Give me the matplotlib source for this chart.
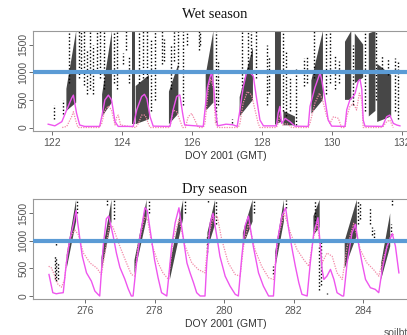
import matplotlib
matplotlib.use('Agg')
import matplotlib.pyplot as plt

plt.rcParams['hatch.linewidth'] = 0.8
plt.rcParams['hatch.color'] = 'black'
plt.rcParams['font.family'] = ['Liberation Sans', 'DejaVu Sans']

# ---------------- wet season, DOY 122-132 ----------------
wet_solid_x = [121.9, 122.09, 122.29, 122.43, 122.57, 122.62, 122.71, 122.8, 122.94, 123.37,
               123.43, 123.52, 123.62, 123.71, 123.81, 123.9, 124.33, 124.43, 124.57, 124.65,
               124.72, 124.81, 124.9, 125.38, 125.47, 125.57, 125.66, 125.74, 125.8, 126.33,
               126.38, 126.45, 126.52, 126.57, 126.63, 126.68, 126.74, 126.98, 127.17, 127.3,
               127.38, 127.47, 127.57, 127.67, 127.76, 127.86, 127.95, 128.05, 128.42, 128.47,
               128.52, 128.57, 128.67, 128.81, 128.95, 129.33, 129.38, 129.52, 129.62, 129.67,
               129.72, 129.81, 129.9, 130.0, 130.38, 130.43, 130.52, 130.62, 130.67, 130.76,
               130.81, 130.86, 130.9, 130.95, 131.45, 131.57, 131.66, 131.76, 131.86, 131.95]
wet_solid_y = [60, 30, 105, 320, 530, 585, 260, 45, 20, 20,
               195, 500, 585, 500, 105, 20, 20, 320, 560, 600,
               520, 195, 25, 20, 320, 560, 590, 260, 45, 20,
               320, 720, 900, 1000, 720, 320, 30, 60, 50, 20,
               320, 720, 1000, 990, 930, 500, 135, 30, 30, 260,
               380, 75, 165, 105, 25, 20, 380, 720, 900, 990,
               840, 500, 135, 25, 20, 320, 500, 560, 620, 840,
               870, 690, 135, 25, 20, 195, 225, 75, 45, 30]

wet_dot_x = [122.3, 122.43, 122.57, 122.62, 122.71, 122.75, 123.35, 123.43, 123.52, 123.62,
             123.71, 123.81, 123.86, 123.9, 123.97, 124.4, 124.48, 124.57, 124.67, 124.76,
             124.81, 125.35, 125.4, 125.47, 125.57, 125.66, 125.74, 125.82, 125.9, 126.0,
             126.09, 126.19, 126.33, 126.38, 126.48, 126.54, 126.62, 126.68, 126.74, 127.33,
             127.38, 127.47, 127.59, 127.71, 127.81, 127.9, 127.95, 128.42, 128.47, 128.52,
             128.6, 128.71, 128.86, 129.33, 129.38, 129.52, 129.65, 129.74, 129.86, 129.95,
             130.05, 130.19, 130.28, 130.38, 130.43, 130.52, 130.62, 130.71, 130.79, 130.86,
             130.9, 131.4, 131.47, 131.57, 131.66, 131.76]
wet_dot_y = [0, 20, 195, 285, 75, 0, 0, 75, 316, 390,
             316, 45, 195, 225, 45, 0, 75, 225, 225, 75,
             0, 0, 75, 316, 285, 135, 0, 0, 195, 255,
             135, 0, 0, 75, 720, 880, 720, 75, 0, 0,
             75, 440, 650, 590, 316, 75, 0, 0, 75, 225,
             45, 75, 0, 0, 75, 440, 620, 496, 195, 75,
             195, 165, 0, 0, 195, 380, 440, 316, 620, 500,
             0, 0, 20, 105, 135, 0]

# dense clouds of black points: x range and low/high edges at both ends
wet_band_x0 = [122.42, 123.44, 124.30, 124.40, 125.35, 126.40, 127.37, 128.38, 128.62, 129.42, 130.38, 130.66, 131.06, 131.30]
wet_band_x1 = [122.70, 123.72, 124.37, 124.78, 125.62, 126.62, 127.75, 128.55, 128.95, 129.75, 130.56, 130.90, 131.25, 131.70]
wet_band_lo0 = [300, 200, 60, 60, 60, 300, 200, 50, 40, 250, 500, 800, 200, 100]
wet_band_lo1 = [450, 450, 60, 150, 250, 450, 500, 100, 40, 500, 500, 900, 300, 200]
wet_band_hi0 = [700, 600, 1745, 750, 650, 950, 550, 1745, 300, 850, 1550, 1700, 1700, 1150]
wet_band_hi1 = [1745, 1745, 1745, 950, 1150, 1745, 1450, 1745, 200, 1745, 1745, 1500, 1745, 950]

# isolated streaks of black points
wet_streak_x = [122.08, 122.32, 122.77, 122.84, 122.93, 123.02, 123.1, 123.18, 123.3, 123.37,
                123.78, 123.86, 124.05, 124.12, 124.2, 124.72, 124.85, 124.95, 125.15, 125.22,
                125.5, 125.6, 125.75, 125.88, 126.2, 126.25, 126.7, 126.76, 127.15, 127.7,
                127.85, 128.15, 128.22, 128.6, 128.7, 128.8, 128.98, 129.22, 129.3, 129.85,
                129.95, 130.1, 130.2, 130.6, 130.95, 131.28, 131.8, 131.9, 122.5, 123.5,
                124.5, 124.6, 125.4, 127.45, 127.6, 129.5, 131.45, 131.6]
wet_streak_lo = [160, 250, 900, 1000, 760, 600, 700, 600, 1000, 900,
                 800, 700, 1150, 1400, 800, 900, 300, 500, 1150, 1200,
                 1200, 1100, 400, 1500, 1400, 1500, 100, 400, 80, 1300,
                 900, 400, 600, 300, 200, 300, 50, 750, 800, 600,
                 800, 700, 800, 400, 300, 500, 300, 150, 800, 700,
                 800, 900, 700, 700, 1000, 900, 1000, 950]
wet_streak_hi = [400, 500, 1745, 1745, 1745, 1400, 1745, 1500, 1745, 1745,
                 1745, 1745, 1350, 1745, 1300, 1745, 1600, 1745, 1745, 1600,
                 1745, 1745, 1745, 1745, 1745, 1700, 1745, 1200, 150, 1745,
                 1745, 1500, 1300, 1745, 1400, 900, 1050, 1250, 1300, 1745,
                 1745, 1300, 1200, 1500, 1745, 1745, 1250, 1200, 1745, 1745,
                 1745, 1745, 1500, 1745, 1745, 1745, 1300, 1250]

# ---------------- dry season, DOY 275-285 ----------------
dry_solid_x = [274.96, 275.03, 275.07, 275.17, 275.25, 275.37, 275.46, 275.56, 275.65, 275.74,
               275.85, 275.92, 276.04, 276.18, 276.28, 276.37, 276.42, 276.52, 276.61, 276.68,
               276.81, 276.9, 277.0, 277.14, 277.24, 277.33, 277.38, 277.48, 277.58, 277.72,
               277.79, 277.91, 278.0, 278.1, 278.2, 278.35, 278.4, 278.49, 278.59, 278.7,
               278.83, 278.93, 279.02, 279.12, 279.21, 279.31, 279.45, 279.5, 279.6, 279.68,
               279.79, 279.88, 280.03, 280.17, 280.32, 280.41, 280.51, 280.6, 280.7, 280.84,
               280.99, 281.13, 281.28, 281.42, 281.52, 281.66, 281.77, 281.86, 281.96, 282.05,
               282.15, 282.24, 282.39, 282.48, 282.58, 282.7, 282.77, 282.82, 282.87, 282.96,
               283.06, 283.16, 283.25, 283.4, 283.44, 283.54, 283.68, 283.78, 283.88, 283.97,
               284.07, 284.21, 284.35, 284.45, 284.55, 284.69, 284.84, 284.93, 285.03]
dry_solid_y = [390, 180, 60, 40, 50, 60, 600, 1030, 1265, 1550,
               1030, 720, 420, 270, 90, 30, 0, 900, 1400, 1450,
               1080, 780, 520, 310, 130, 0, 0, 600, 1080, 1600,
               1550, 1030, 650, 330, 60, 0, 310, 900, 1325, 1600,
               1030, 600, 420, 240, 60, 0, 0, 600, 1325, 1500,
               1080, 720, 360, 180, 30, 0, 720, 1265, 1450, 900,
               420, 180, 0, 0, 950, 1445, 1600, 1205, 843, 540,
               240, 30, 0, 600, 1145, 1420, 904, 482, 300, 361,
               482, 300, 60, 0, 0, 600, 1145, 1300, 904, 600,
               300, 150, 120, 60, 482, 904, 1130, 904, 420]

dry_dot_x = [274.95, 275.03, 275.13, 275.22, 275.32, 275.41, 275.5, 275.6, 275.7, 275.8,
             275.95, 276.14, 276.33, 276.47, 276.57, 276.7, 276.8, 277.0, 277.19, 277.33,
             277.43, 277.52, 277.72, 277.8, 277.91, 278.1, 278.24, 278.4, 278.54, 278.7,
             278.88, 279.07, 279.26, 279.45, 279.55, 279.69, 279.8, 279.93, 280.12, 280.32,
             280.46, 280.56, 280.7, 280.89, 281.08, 281.28, 281.42, 281.56, 281.73, 281.91,
             282.1, 282.29, 282.44, 282.58, 282.68, 282.82, 282.96, 283.11, 283.25, 283.4,
             283.54, 283.73, 283.92, 284.11, 284.3, 284.45, 284.6, 284.79, 284.88]
dry_dot_y = [540, 510, 360, 210, 160, 300, 840, 1080, 1200, 1120,
             780, 600, 510, 390, 780, 1300, 1250, 900, 600, 390,
             360, 900, 1440, 1380, 960, 600, 420, 300, 1030, 1390,
             900, 600, 480, 420, 1080, 1440, 1450, 1030, 600, 390,
             360, 900, 1320, 840, 540, 330, 300, 1080, 1500, 1145,
             840, 660, 540, 1080, 1320, 600, 780, 720, 420, 300,
             900, 1320, 840, 600, 480, 360, 720, 1080, 1120]

dry_band_x0 = [275.47, 276.47, 277.42, 278.44, 279.52, 280.54, 281.47, 282.57, 283.47, 284.52]
dry_band_x1 = [275.74, 276.76, 277.77, 278.82, 279.74, 280.82, 281.72, 282.75, 283.82, 284.78]
dry_band_lo0 = [500, 450, 400, 300, 850, 900, 500, 1100, 500, 300]
dry_band_lo1 = [1350, 1350, 1400, 1400, 1300, 1350, 1350, 1250, 1100, 900]
dry_band_hi0 = [750, 700, 650, 600, 1150, 1150, 800, 1450, 1000, 600]
dry_band_hi1 = [1745, 1745, 1745, 1745, 1745, 1745, 1745, 1745, 1745, 1500]

dry_streak_x = [275.12, 275.17, 275.22, 275.15, 275.78, 276.62, 276.82, 277.85, 278.88, 279.55,
                279.78, 279.52, 280.85, 281.42, 281.78, 282.62, 282.72, 282.78, 283.85, 283.9,
                284.2, 284.25, 284.3, 284.8, 284.82, 282.95]
dry_streak_lo = [300, 280, 300, 930, 1500, 1650, 1400, 1500, 1500, 1700,
                 1300, 800, 1500, 400, 1600, 1300, 100, 200, 1300, 1400,
                 1300, 1100, 1000, 1100, 1650, 40]
dry_streak_hi = [750, 700, 600, 970, 1745, 1745, 1745, 1745, 1745, 1745,
                 1745, 1100, 1745, 550, 1745, 1745, 900, 1000, 1745, 1700,
                 1600, 1250, 1200, 1300, 1745, 60]

threshold = 1000

fig = plt.figure(figsize=(4.07, 3.35), dpi=100)
W, H = 407.0, 335.0


def panel(rect, xlim, ylim, xticks, title, title_y,
          band, streak, solid, dotted):
    ax = fig.add_axes(rect)
    x0, x1, lo0, lo1, hi0, hi1 = band
    for i in range(len(x0)):
        # dense point clouds: hatched polygon
        ax.fill([x0[i], x1[i], x1[i], x0[i]], [lo0[i], lo1[i], hi1[i], hi0[i]],
                facecolor=(0, 0, 0, 0.72), edgecolor='none', hatch='||||',
                linewidth=0, zorder=2)
    sx, slo, shi = streak
    ax.vlines(sx, slo, shi, colors='black', linewidth=1.0,
              linestyles=(0, (1, 1.5)), zorder=2)
    ax.plot(dotted[0], dotted[1], color='#f28aa8', linestyle=(0, (1, 1)),
            linewidth=0.9, zorder=3)
    ax.plot(solid[0], solid[1], color='#ee55ee', linewidth=1.0, zorder=4)
    ax.axhline(threshold, color='#5b9bd5', linewidth=3.0, zorder=5)
    ax.set_xlim(*xlim)
    ax.set_ylim(*ylim)
    ax.set_xticks(xticks)
    ax.set_yticks([0, 500, 1000, 1500])
    ax.tick_params(axis='both', labelsize=7.5, colors='#555555', length=3, width=0.6, pad=2)
    plt.setp(ax.get_yticklabels(), rotation=90, ha='center', va='center',
             rotation_mode='default')
    ax.tick_params(axis='y', pad=4)
    ax.set_xlabel('DOY 2001 (GMT)', fontsize=7.5, color='#333333', labelpad=2)
    for s in ax.spines.values():
        s.set_color('#999999')
        s.set_linewidth(0.8)
    fig.text(215 / W, 1 - title_y / H, title, ha='center', va='center',
             family='Liberation Serif', fontsize=10.5, color='#111111')
    return ax


panel([33 / W, 1 - 131 / H, 385.7 / W, 100 / H], (121.466, 132.486), (-63, 1744),
      [122, 124, 126, 128, 130, 132], 'Wet season', 15,
      (wet_band_x0, wet_band_x1, wet_band_lo0, wet_band_lo1, wet_band_hi0, wet_band_hi1),
      (wet_streak_x, wet_streak_lo, wet_streak_hi),
      (wet_solid_x, wet_solid_y), (wet_dot_x, wet_dot_y))

panel([33 / W, 1 - 299.3 / H, 385.7 / W, 100 / H], (274.50, 285.6), (-60, 1754),
      [276, 278, 280, 282, 284], 'Dry season', 190,
      (dry_band_x0, dry_band_x1, dry_band_lo0, dry_band_lo1, dry_band_hi0, dry_band_hi1),
      (dry_streak_x, dry_streak_lo, dry_streak_hi),
      (dry_solid_x, dry_solid_y), (dry_dot_x, dry_dot_y))

fig.text(384 / W, 1 - 328 / H, 'soilbt', ha='left', va='top', fontsize=7.5, color='#555555')

fig.savefig('out.png', dpi=100)
